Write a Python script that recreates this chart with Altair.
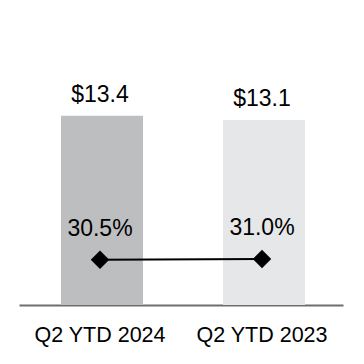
import altair as alt
import pandas as pd

categories = ["Q2 YTD 2024", "Q2 YTD 2023"]
revenue = [13.4, 13.1]
revenue_labels = ["$13.4", "$13.1"]
margin = [30.5, 31.0]
margin_labels = ["30.5%", "31.0%"]
bar_colors = ["#bdbec0", "#e6e7e8"]

df = pd.DataFrame({
    "cat": categories,
    "rev": revenue,
    "rev_label": revenue_labels,
    "margin": margin,
    "margin_label": margin_labels,
    "color": bar_colors,
})

FONT = "Liberation Sans"

x_enc = alt.X(
    "cat:N",
    sort=categories,
    title=None,
    scale=alt.Scale(paddingInner=0, paddingOuter=0),
    axis=alt.Axis(
        labelAngle=0,
        ticks=False,
        domainColor="#6d6e71",
        domainWidth=2,
        labelFont=FONT,
        labelFontSize=21.5,
        labelColor="#000000",
        labelBaseline="alphabetic",
        labelPadding=36,
        grid=False,
    ),
)

y_bar = alt.Y("rev:Q", axis=None, scale=alt.Scale(domain=[0, 20.17], nice=False, zero=True))
y_pct = alt.Y("margin:Q", axis=None, scale=alt.Scale(domain=[0, 191.9], nice=False, zero=True))

base = alt.Chart(df)

bars = base.mark_bar(size=82, xOffset=2).encode(
    x=x_enc,
    y=y_bar,
    color=alt.Color("color:N", scale=None),
)

bar_text = base.mark_text(
    font=FONT, fontSize=23, baseline="alphabetic", dy=-13.5, color="#000000"
).encode(x=x_enc, y=y_bar, text="rev_label:N")

line = base.mark_line(color="#000000", strokeWidth=2).encode(x=x_enc, y=y_pct)

points = base.mark_point(
    shape="diamond", size=340, filled=True, color="#000000", opacity=1
).encode(x=x_enc, y=y_pct)

pct_text = base.mark_text(
    font=FONT, fontSize=23, baseline="alphabetic", dy=-23.5, color="#000000"
).encode(x=x_enc, y=y_pct, text="margin_label:N")

bar_layer = alt.layer(bars, bar_text)
pct_layer = alt.layer(line, points, pct_text)

chart = (
    alt.layer(bar_layer, pct_layer)
    .resolve_scale(y="independent")
    .properties(
        width=324,
        height=285,
        padding={"left": 19, "top": 20, "right": 21, "bottom": 59},
        autosize=alt.AutoSizeParams(type="none"),
        background="#ffffff",
    )
    .configure_view(stroke=None)
)

chart.save("out.html", embed_options={"renderer": "svg", "actions": False})
